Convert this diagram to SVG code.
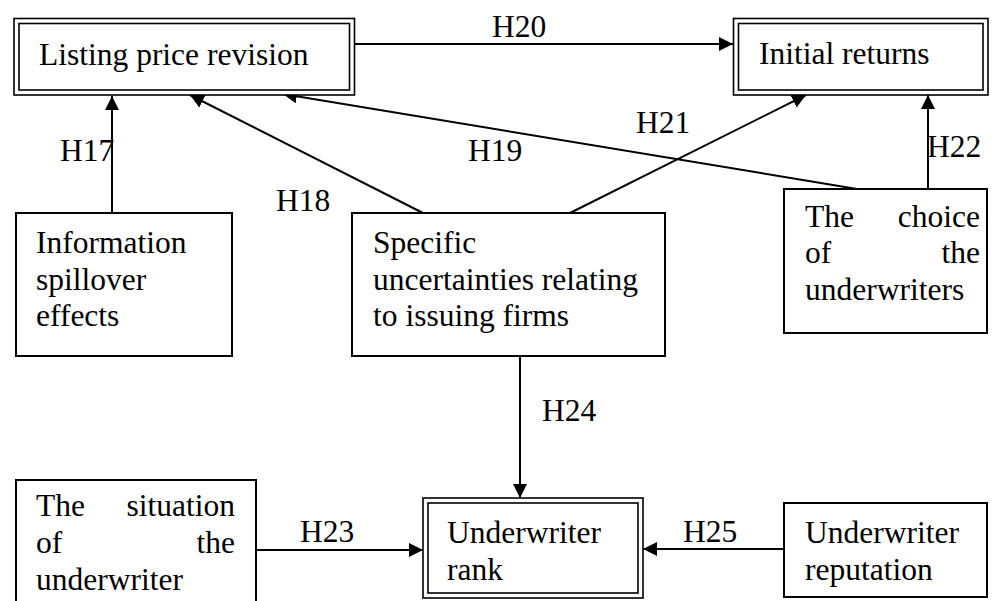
<svg xmlns="http://www.w3.org/2000/svg" width="992" height="601" viewBox="0 0 992 601" font-family="'Liberation Serif', 'Times New Roman', Times, 'DejaVu Serif', serif">
<style>
  text { font-family: "Liberation Serif", "Times New Roman", Times, "DejaVu Serif", serif; font-size: 31.5px; fill: #000; }
  .box { fill: #fff; stroke: #000; stroke-width: 2; }
  .dbl { fill: none; stroke: #000; stroke-width: 1.6; }
  .conn { stroke: #000; stroke-width: 2; fill: none; }
</style>
<defs>
  <marker id="arr" viewBox="0 0 14 14" refX="14" refY="7" markerWidth="14" markerHeight="14" markerUnits="userSpaceOnUse" orient="auto">
    <path d="M0,0 L14,7 L0,14 z" fill="#000"/>
  </marker>
</defs>
<rect width="992" height="601" fill="#fff"/>

<g id="connectors">
  <line class="conn" x1="355" y1="44" x2="733" y2="44" marker-end="url(#arr)"/>
  <text x="492" y="37">H20</text>
  <line class="conn" x1="112" y1="213" x2="112" y2="96" marker-end="url(#arr)"/>
  <text x="60" y="161">H17</text>
  <line class="conn" x1="423" y1="213" x2="190" y2="95" marker-end="url(#arr)"/>
  <text x="276" y="211">H18</text>
  <line class="conn" x1="857" y1="189" x2="283" y2="94" marker-end="url(#arr)"/>
  <text x="468" y="161">H19</text>
  <line class="conn" x1="570" y1="213" x2="806" y2="95" marker-end="url(#arr)"/>
  <text x="636" y="133">H21</text>
  <line class="conn" x1="928" y1="189" x2="928" y2="95" marker-end="url(#arr)"/>
  <text x="927" y="157">H22</text>
  <line class="conn" x1="520" y1="357" x2="520" y2="498" marker-end="url(#arr)"/>
  <text x="542" y="421">H24</text>
  <line class="conn" x1="256" y1="550" x2="423" y2="550" marker-end="url(#arr)"/>
  <text x="300" y="542">H23</text>
  <line class="conn" x1="784" y1="549" x2="643" y2="549" marker-end="url(#arr)"/>
  <text x="683" y="542">H25</text>
</g>

<g id="listing-price-revision">
  <rect x="14" y="18.5" width="340.5" height="76.5" fill="#fff" stroke="none"/>
  <rect class="dbl" x="14" y="18.5" width="340.5" height="76.5"/>
  <rect class="dbl" x="19" y="23.5" width="330.5" height="66.5"/>
  <text x="39" y="65">Listing price revision</text>
</g>

<g id="initial-returns">
  <rect x="733.5" y="18.5" width="254.5" height="76.5" fill="#fff" stroke="none"/>
  <rect class="dbl" x="733.5" y="18.5" width="254.5" height="76.5"/>
  <rect class="dbl" x="738.5" y="23.5" width="244.5" height="66.5"/>
  <text x="759" y="64">Initial returns</text>
</g>

<g id="information-spillover">
  <rect class="box" x="16" y="213" width="216" height="143"/>
  <text x="36" y="253">Information</text>
  <text x="36" y="290">spillover</text>
  <text x="36" y="326">effects</text>
</g>

<g id="specific-uncertainties">
  <rect class="box" x="352" y="213" width="313" height="143"/>
  <text x="373" y="253">Specific</text>
  <text x="373" y="290">uncertainties relating</text>
  <text x="373" y="326">to issuing firms</text>
</g>

<g id="choice-of-underwriters">
  <rect class="box" x="784" y="189" width="203" height="144"/>
  <text x="805" y="227">The</text>
  <text x="980" y="227" text-anchor="end">choice</text>
  <text x="805" y="263">of</text>
  <text x="980" y="263" text-anchor="end">the</text>
  <text x="805" y="300">underwriters</text>
</g>

<g id="situation-of-underwriter">
  <rect class="box" x="16" y="480" width="240" height="130"/>
  <text x="36" y="516">The</text>
  <text x="235" y="516" text-anchor="end">situation</text>
  <text x="36" y="553">of</text>
  <text x="235" y="553" text-anchor="end">the</text>
  <text x="36" y="590">underwriter</text>
</g>

<g id="underwriter-rank">
  <rect x="423" y="498" width="220" height="100" fill="#fff" stroke="none"/>
  <rect class="dbl" x="423" y="498" width="220" height="100"/>
  <rect class="dbl" x="428" y="503" width="210" height="90"/>
  <text x="447" y="543">Underwriter</text>
  <text x="447" y="580">rank</text>
</g>

<g id="underwriter-reputation">
  <rect class="box" x="784" y="503" width="203" height="94"/>
  <text x="805" y="543">Underwriter</text>
  <text x="805" y="580">reputation</text>
</g>
</svg>
